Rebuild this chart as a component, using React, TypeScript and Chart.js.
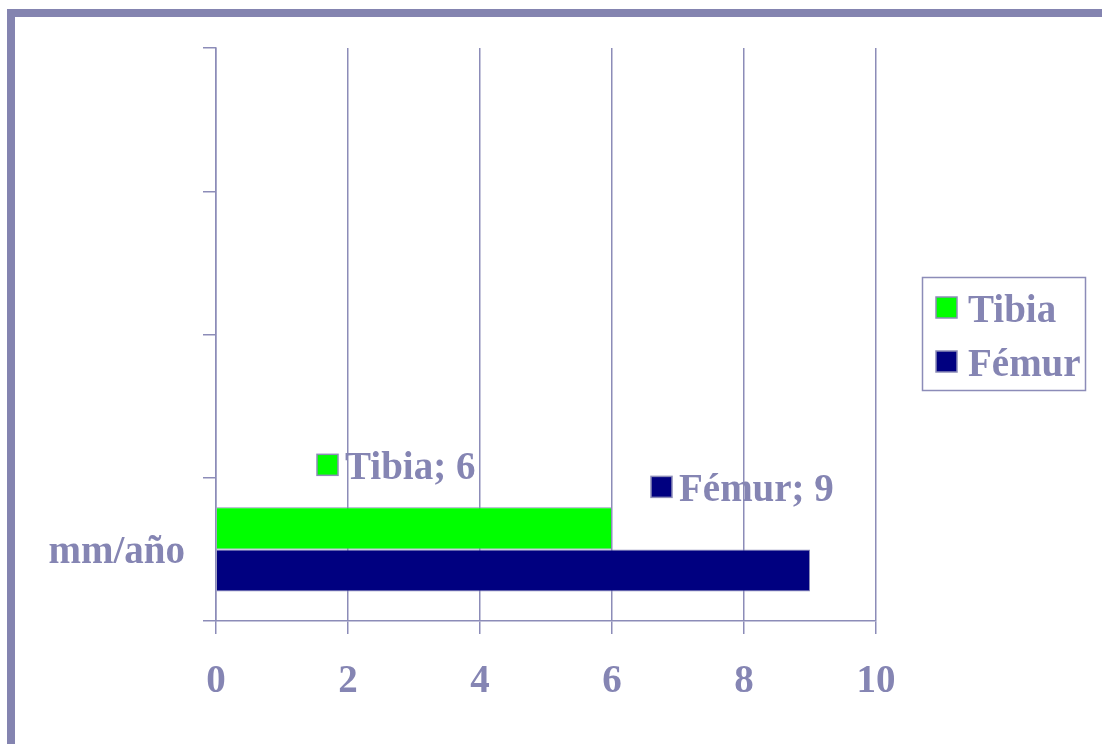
import React, { useEffect, useRef } from "react";
import { Chart, registerables } from "chart.js";

Chart.register(...registerables);

const categories = ["", "", "", "mm/año"];
const seriesNames = ["Tibia", "Fémur"];
const tibiaValues = [null, null, null, 6];
const femurValues = [null, null, null, 9];
const seriesColors = ["#00ff00", "#000080"];
const xTicks = [0, 2, 4, 6, 8, 10];

const TEXT = "#8585b3";
const LINE = "#8c8cb8";
const FAMILY = "'Liberation Serif', 'Times New Roman', serif";
const FONT = `bold 39px ${FAMILY}`;

const overlayPlugin = {
  id: "overlay",
  afterDatasetsDraw(chart: any) {
    const ctx = chart.ctx;
    ctx.save();
    ctx.font = FONT;
    ctx.textBaseline = "middle";
    ctx.textAlign = "left";
    // data labels
    const offsets = [
      { dx: -295, dy: -42 },
      { dx: -159, dy: -62 },
    ];
    chart.data.datasets.forEach((ds: any, di: number) => {
      const meta = chart.getDatasetMeta(di);
      meta.data.forEach((el: any, i: number) => {
        const v = ds.data[i];
        if (v == null) return;
        const top = el.y - el.height / 2;
        const sx = el.x + offsets[di].dx;
        const cy = top + offsets[di].dy;
        ctx.fillStyle = ds.backgroundColor;
        ctx.fillRect(sx, cy - 11, 21, 21);
        ctx.strokeStyle = LINE;
        ctx.lineWidth = 1.5;
        ctx.strokeRect(sx, cy - 11, 21, 21);
        ctx.fillStyle = TEXT;
        ctx.fillText(`${ds.label}; ${v}`, sx + 28, cy + 4);
      });
    });
    // legend
    ctx.strokeStyle = LINE;
    ctx.lineWidth = 1.5;
    ctx.strokeRect(922.5, 277.5, 163, 113);
    const rows = [308, 362];
    chart.data.datasets.forEach((ds: any, di: number) => {
      const cy = rows[di];
      ctx.fillStyle = ds.backgroundColor;
      ctx.fillRect(936, cy - 11, 21, 21);
      ctx.strokeStyle = LINE;
      ctx.strokeRect(936, cy - 11, 21, 21);
      ctx.fillStyle = TEXT;
      ctx.fillText(ds.label, 968, cy + 4);
    });
    ctx.restore();
  },
};

export default function App() {
  const ref = useRef<HTMLCanvasElement | null>(null);
  useEffect(() => {
    document.body.style.margin = "0";
    const chart = new Chart(ref.current as HTMLCanvasElement, {
      type: "bar",
      data: {
        labels: categories,
        datasets: [
          {
            label: seriesNames[0],
            data: tibiaValues as any,
            backgroundColor: seriesColors[0],
            borderColor: LINE,
            borderWidth: 1,
            categoryPercentage: 0.587,
            barPercentage: 1,
          },
          {
            label: seriesNames[1],
            data: femurValues as any,
            backgroundColor: seriesColors[1],
            borderColor: LINE,
            borderWidth: 1,
            categoryPercentage: 0.587,
            barPercentage: 1,
          },
        ],
      },
      options: {
        indexAxis: "y",
        animation: false,
        responsive: false,
        layout: { padding: { left: 0, top: 48, right: 226, bottom: 0 } },
        plugins: { legend: { display: false }, tooltip: { enabled: false } },
        scales: {
          x: {
            min: xTicks[0],
            max: xTicks[xTicks.length - 1],
            afterBuildTicks: (scale: any) => {
              scale.ticks = xTicks.map((v) => ({ value: v }));
            },
            afterFit: (scale: any) => {
              scale.height = 123;
            },
            grid: { color: LINE, lineWidth: 1.5, tickLength: 13, drawOnChartArea: true },
            border: { display: true, color: LINE, width: 1.5 },
            ticks: {
              color: TEXT,
              font: { family: FAMILY, size: 39, weight: "bold" },
              padding: 25,
              maxRotation: 0,
            },
          },
          y: {
            afterFit: (scale: any) => {
              scale.width = 216;
            },
            grid: { color: LINE, lineWidth: 1.5, tickLength: 13, drawOnChartArea: false, offset: true },
            border: { display: true, color: LINE, width: 1.5 },
            ticks: {
              color: TEXT,
              font: { family: FAMILY, size: 39, weight: "bold" },
              padding: 18,
              labelOffset: 4,
            },
          },
        },
      },
      plugins: [overlayPlugin],
    } as any);
    return () => chart.destroy();
  }, []);
  return (
    <div style={{ position: "relative", width: 1102, height: 744, overflow: "hidden", background: "#fff" }}>
      <div
        style={{
          position: "absolute",
          left: 7,
          top: 9,
          right: -20,
          bottom: -20,
          borderLeft: "8px solid #8484b0",
          borderTop: "8px solid #8484b0",
        }}
      />
      <canvas ref={ref} width={1102} height={744} style={{ position: "absolute", left: 0, top: 0 }} />
    </div>
  );
}
